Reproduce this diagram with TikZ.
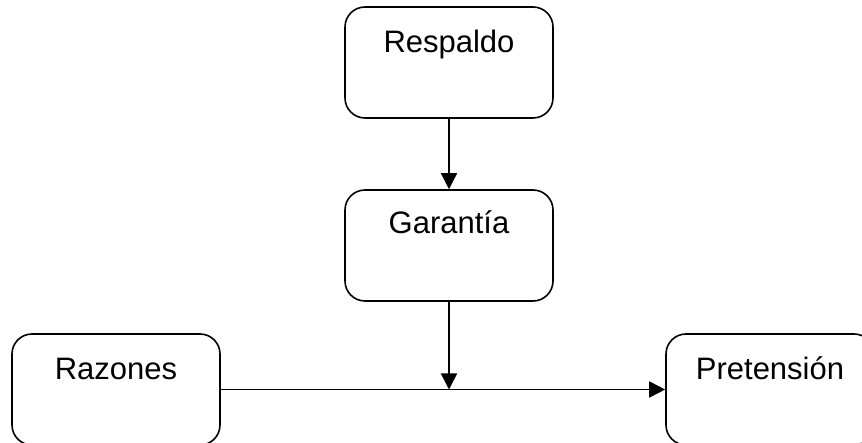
\documentclass[tikz,border=0pt]{standalone}
\usepackage{fontspec}
\setmainfont{Liberation Sans}
\usetikzlibrary{arrows.meta}
\begin{document}
\begin{tikzpicture}[x=1pt,y=-1pt,
  box/.style={draw=black,line width=1.6pt,rounded corners=20pt,rectangle,minimum width=208pt,minimum height=111pt,inner sep=0pt},
  lbl/.style={anchor=base,font=\fontsize{31}{37}\selectfont,inner sep=0pt},
  arr/.style={line width=1.6pt,-{Triangle[length=16pt,width=16pt]}}]
\useasboundingbox (0,0) rectangle (862,443);
\clip (0,0) rectangle (862,443);
\node[box] (resp) at (449,62.5) {};
\node[box] (gar) at (449,245.5) {};
\node[box] (raz) at (116,389.5) {};
\node[box] (pre) at (770,389.5) {};
\node[lbl] (tresp) at ([yshift=-46pt]resp.north) {Respaldo};
\node[lbl] (tgar) at ([yshift=-44pt]gar.north) {Garantía};
\node[lbl] (traz) at ([yshift=-46pt]raz.north) {Razones};
\node[lbl] (tpre) at ([yshift=-46pt]pre.north) {Pretensión};
\coordinate (meet) at (gar.south |- raz.east);
\draw[arr] (resp.south) -- (gar.north);
\draw[arr] (gar.south) -- (meet);
\draw[arr] (raz.east) -- (pre.west);
\end{tikzpicture}
\end{document}
